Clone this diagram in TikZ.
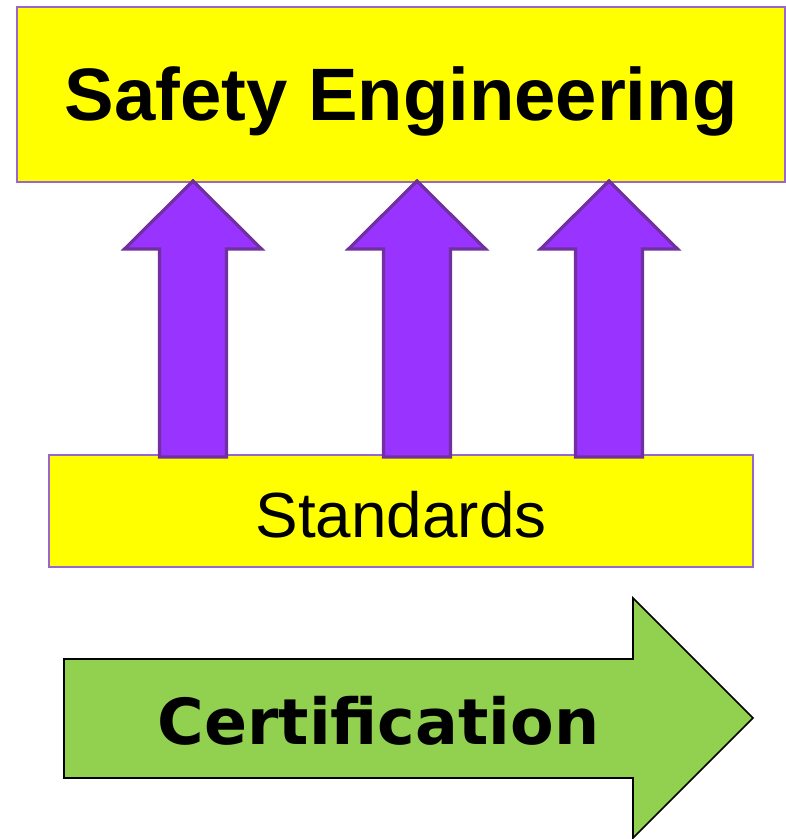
\documentclass[tikz,border=0pt]{standalone}
\usepackage{fontspec}
\setmainfont{Liberation Sans}
\newfontfamily\dejabold{DejaVu Sans}[BoldFont={DejaVu Sans Bold}]
\definecolor{boxyellow}{HTML}{FFFF00}
\definecolor{boxedge}{HTML}{9966CC}
\definecolor{upfill}{HTML}{9933FF}
\definecolor{upedge}{HTML}{7030A0}
\definecolor{certgreen}{HTML}{92D050}
\begin{document}
\begin{tikzpicture}[x=1pt,y=-1pt,
  panel/.style={draw=boxedge,line width=1.2pt,fill=boxyellow},
  uparrow/.style={draw=upedge,line width=3.2pt,fill=upfill,line join=miter},
  certarrow/.style={draw=black,line width=1.6pt,fill=certgreen,line join=miter}]
  \useasboundingbox (0,0) rectangle (786,839);
  % yellow panels
  \draw[panel] (17,7) rectangle (785,182);
  \node (eng) at (401,101) {\fontsize{74.3}{86}\selectfont\bfseries Safety Engineering};
  \draw[panel] (49,455) rectangle (753,567);
  \node (std) at (401,515) {\fontsize{63.8}{74}\selectfont Standards};
  % three block arrows from Standards up to Safety Engineering
  \foreach \c in {193,417,609}{
    \draw[uparrow] (\c-33.5,457) -- (\c-33.5,249) -- (\c-68.5,249) -- (\c,181)
      -- (\c+68.5,249) -- (\c+33.5,249) -- (\c+33.5,457) -- cycle;
  }
  % certification arrow
  \draw[certarrow] (64,659) -- (633,659) -- (633,598) -- (753,718) -- (633,838)
    -- (633,778) -- (64,778) -- cycle;
  \node (cert) at (378.5,721) {\dejabold\fontsize{63.5}{74}\selectfont\bfseries Certification};
\end{tikzpicture}
\end{document}
